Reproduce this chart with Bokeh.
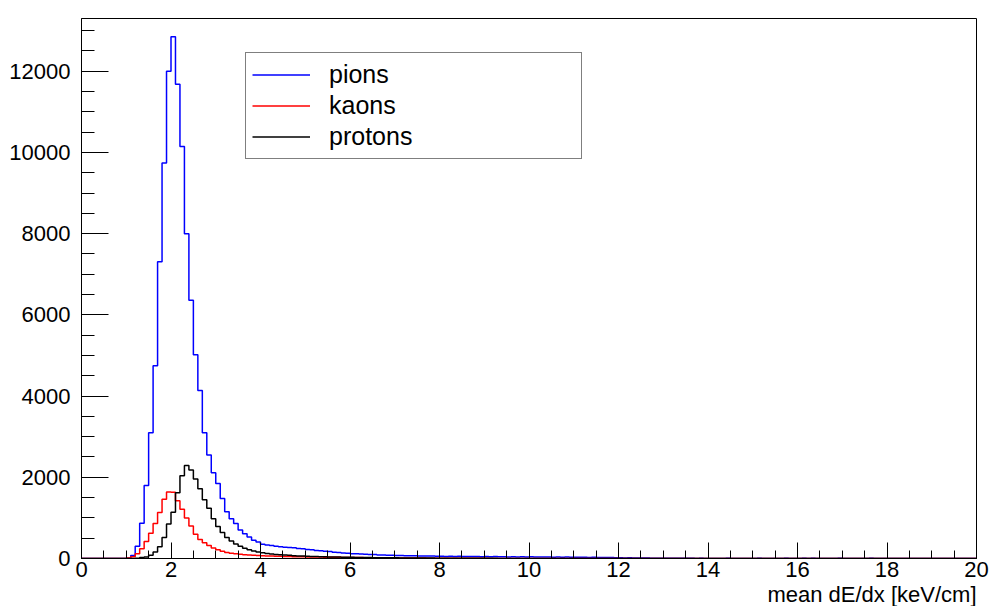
import numpy as np
from bokeh.plotting import figure
from bokeh.models import SingleIntervalTicker, Title, Range1d
from bokeh.embed import file_html
from bokeh.resources import INLINE

# ---- histogram definition: 200 bins from 0 to 20 keV/cm ----
x_min, x_max, n_bins = 0.0, 20.0, 200

pions = [
    0, 0, 0, 0, 0, 0, 0, 0, 0, 0,
    8, 75, 300, 870, 1800, 3100, 4750, 7310, 9740, 12000,
    12850, 11680, 10150, 8000, 6360, 5020, 4140, 3100, 2550, 2110,
    1850, 1480, 1150, 980, 860, 700, 610, 530, 450, 405,
    350, 335, 318, 300, 292, 278, 268, 262, 248, 240,
    222, 214, 198, 190, 176, 172, 157, 150, 133, 129,
    120, 114, 110, 103, 99, 96, 89, 85, 80, 77,
    74, 72, 69, 68, 65, 64, 61, 62, 59, 57,
    56, 52, 55, 50, 53, 48, 51, 47, 50, 45,
    48, 44, 47, 42, 45, 40, 44, 39, 42, 38,
    41, 37, 39, 35, 38, 33, 36, 32, 34, 30,
    32, 28, 30, 27, 29, 25, 27, 23, 25, 21,
    18, 15, 16, 12, 14, 10, 11, 8, 9, 7,
    6, 7, 5, 6, 4, 5, 4, 3, 4, 3,
    2, 3, 2, 0, 4, 3, 0, 2, 3, 0,
    2, 4, 3, 2, 0, 3, 2, 4, 3, 0,
    3, 4, 2, 5, 3, 0, 2, 0, 3, 4,
    0, 3, 0, 2, 3, 0, 4, 2, 0, 3,
    2, 0, 0, 2, 3, 0, 0, 2, 0, 0,
    3, 2, 0, 0, 0, 0, 0, 0, 0, 0,
]

kaons = [
    0, 0, 0, 0, 0, 0, 0, 0, 0, 0,
    12, 45, 120, 240, 420, 620, 860, 1130, 1460, 1640,
    1630, 1420, 1210, 1000, 800, 600, 470, 385, 320, 258,
    215, 178, 150, 130, 115, 102, 92, 84, 78, 72,
    68, 64, 60, 57, 54, 51, 48, 46, 44, 42,
    40, 38, 36, 34, 33, 31, 30, 28, 27, 26,
    24, 23, 22, 21, 20, 19, 18, 17, 16, 15,
    14, 13, 13, 12, 11, 11, 10, 9, 9, 8,
    8, 7, 7, 6, 6, 5, 5, 5, 4, 4,
    4, 3, 3, 3, 3, 2, 2, 2, 2, 2,
    2, 1, 1, 2, 1, 1, 0, 1, 1, 0,
    1, 0, 1, 0, 0, 1, 0, 0, 1, 0,
    0, 1, 0, 0, 0, 0, 1, 0, 0, 0,
    0, 0, 0, 1, 0, 0, 0, 0, 0, 0,
    0, 0, 0, 0, 0, 0, 0, 1, 0, 0,
    0, 0, 0, 0, 0, 0, 0, 0, 0, 0,
    0, 0, 0, 0, 0, 0, 0, 0, 0, 0,
    0, 0, 0, 0, 0, 0, 0, 0, 0, 0,
    0, 0, 0, 0, 0, 0, 0, 0, 0, 0,
    0, 0, 0, 0, 0, 0, 0, 0, 0, 0,
]

protons = [
    0, 0, 0, 0, 0, 0, 0, 0, 0, 0,
    0, 0, 8, 25, 35, 80, 160, 290, 520, 850,
    1140, 1620, 2040, 2290, 2180, 1960, 1720, 1450, 1240, 980,
    790, 640, 520, 430, 360, 300, 255, 215, 185, 160,
    140, 125, 112, 100, 92, 84, 77, 70, 64, 59,
    55, 51, 47, 44, 41, 38, 36, 34, 32, 30,
    28, 26, 25, 23, 22, 21, 20, 19, 18, 17,
    16, 15, 14, 13, 12, 12, 11, 10, 10, 9,
    9, 8, 8, 7, 7, 6, 6, 5, 5, 5,
    4, 4, 4, 3, 3, 3, 3, 2, 2, 2,
    2, 2, 1, 1, 2, 1, 1, 1, 0, 1,
    1, 0, 1, 0, 1, 0, 0, 1, 0, 0,
    0, 0, 1, 0, 0, 0, 0, 0, 1, 0,
    0, 0, 0, 0, 0, 0, 0, 0, 0, 0,
    0, 0, 0, 0, 0, 0, 0, 0, 0, 0,
    0, 0, 0, 0, 0, 0, 0, 0, 0, 0,
    0, 0, 0, 0, 0, 0, 0, 0, 0, 0,
    0, 0, 0, 0, 0, 0, 0, 0, 0, 0,
    0, 0, 0, 0, 0, 0, 0, 0, 0, 0,
    0, 0, 0, 0, 0, 0, 0, 0, 0, 0,
]

series_names = ["pions", "kaons", "protons"]
series_values = [pions, kaons, protons]
series_colors = ["#0000ff", "#ff0000", "#000000"]

x_title = "mean dE/dx [keV/cm]"
y_max = 13300
x_tick_interval = 2
y_tick_interval = 2000

FONT = "Liberation Sans"

edges = np.linspace(x_min, x_max, n_bins + 1)

p = figure(
    frame_width=895, frame_height=540,
    x_range=Range1d(x_min, x_max), y_range=Range1d(0, y_max),
    output_backend="svg", toolbar_location=None,
    min_border_left=81, min_border_right=14,
    min_border_top=18, min_border_bottom=46,
)
p.background_fill_color = "white"
p.border_fill_color = "white"
p.grid.visible = False
p.outline_line_color = "black"
p.outline_line_width = 1
p.outline_line_alpha = 1.0

for name, vals, color in zip(series_names, series_values, series_colors):
    y = list(vals) + [vals[-1]]
    p.step(edges, y, mode="after", line_color=color, line_width=1.5,
           legend_label=name)

# axes
p.xaxis.ticker = SingleIntervalTicker(interval=x_tick_interval, num_minor_ticks=4)
p.yaxis.ticker = SingleIntervalTicker(interval=y_tick_interval, num_minor_ticks=4)
for ax in (p.xaxis[0], p.yaxis[0]):
    ax.axis_line_color = "black"
    ax.axis_line_width = 1
    ax.major_tick_line_color = "black"
    ax.minor_tick_line_color = "black"
    ax.major_tick_out = 0
    ax.minor_tick_out = 0
    ax.major_label_text_font = FONT
    ax.major_label_text_font_size = "22px"
    ax.major_label_text_color = "black"
p.xaxis.major_tick_in = 16
p.xaxis.minor_tick_in = 8
p.xaxis.major_label_standoff = 3
p.yaxis.major_tick_in = 27
p.yaxis.minor_tick_in = 13
p.yaxis.major_label_standoff = 11

# x-axis title, right aligned under the frame
p.add_layout(Title(
    text=x_title, align="right", standoff=0, offset=0,
    text_font=FONT, text_font_size="22px", text_font_style="normal",
    text_color="black",
), "below")

# legend
leg = p.legend[0]
leg.location = (164, 399)
leg.margin = 0
leg.padding = 6
leg.spacing = 0
leg.glyph_width = 58
leg.glyph_height = 31
leg.label_height = 31
leg.label_standoff = 19
leg.label_width = 246
leg.label_text_font = FONT
leg.label_text_font_size = "25px"
leg.label_text_color = "black"
leg.label_text_baseline = "middle"
leg.border_line_color = "black"
leg.border_line_width = 1
leg.background_fill_color = "white"
leg.background_fill_alpha = 1.0

open("out.html", "w").write(file_html(p, INLINE))
